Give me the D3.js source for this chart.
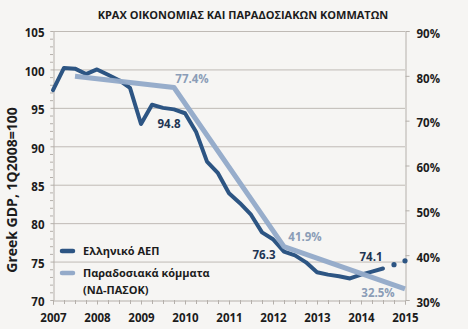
<!DOCTYPE html>
<html><head><meta charset="utf-8">
<script src="https://cdn.jsdelivr.net/npm/d3@7"></script>
<style>
html,body{margin:0;padding:0;background:#f6f5f3;}
svg{display:block;font-family:"Open Sans",sans-serif;}
</style></head>
<body><svg id="c" width="468" height="329"></svg>
<script>
// ---- data ----
const title = "ΚΡΑΧ ΟΙΚΟΝΟΜΙΑΣ ΚΑΙ ΠΑΡΑΔΟΣΙΑΚΩΝ ΚΟΜΜΑΤΩΝ";
const yLabel = "Greek GDP, 1Q2008=100";
const gdpQuarters = ["2007Q1","2007Q2","2007Q3","2007Q4","2008Q1","2008Q2","2008Q3","2008Q4",
  "2009Q1","2009Q2","2009Q3","2009Q4","2010Q1","2010Q2","2010Q3","2010Q4",
  "2011Q1","2011Q2","2011Q3","2011Q4","2012Q1","2012Q2","2012Q3","2012Q4",
  "2013Q1","2013Q2","2013Q3","2013Q4","2014Q1","2014Q2","2014Q3"];
const gdpValues = [97.3,100.2,100.1,99.4,100.0,99.3,98.6,97.6,
  92.9,95.4,95.0,94.8,94.3,91.9,88.0,86.5,
  83.9,82.6,81.1,78.8,77.9,76.3,75.8,74.9,
  73.6,73.3,73.1,72.8,73.3,73.7,74.1];
const gdpLabelled = ["2009Q4","2012Q2","2014Q3"];
const projQuarters = ["2014Q4","2015Q1"];
const projValues = [74.6,75.1];
const partyQuarters = ["2007Q3","2009Q4","2012Q2","2015Q1"];
const partyValues = [79.9,77.4,41.9,32.5];
const partyLabelled = ["2009Q4","2012Q2","2015Q1"];
const yearTicks = [2007,2008,2009,2010,2011,2012,2013,2014,2015];
const leftTicks = [70,75,80,85,90,95,100,105];
const rightTicks = [30,40,50,60,70,80,90];
const legendItems = ["Ελληνικό ΑΕΠ","Παραδοσιακά κόμματα"];
const legendSub = "(ΝΔ-ΠΑΣΟΚ)";

// ---- helpers ----
const qToYear = q => +q.slice(0,4) + (+q.slice(5)-1)/4;

const svg = d3.select("#c");
const L = 53, R = 405, T = 31, B = 300;
const x = d3.scaleLinear().domain([2007,2015]).range([L,R]);
const y = d3.scaleLinear().domain([70,105]).range([B,T]);
const y2 = d3.scaleLinear().domain([30,90]).range([B,T]);

const dark = "#2d5583", light = "#94aac9", grid = "#bfbab5", axisC = "#b5b0ab";
const txt = "#1c1c1c";

// title
svg.append("text").attr("x",243).attr("y",19).attr("text-anchor","middle")
  .attr("font-size",11).attr("font-weight",700).attr("fill",txt).text(title);

// y label
svg.append("text").attr("transform","translate(17,190) rotate(-90)")
  .attr("text-anchor","middle").attr("font-size",14).attr("font-weight",700)
  .attr("fill",txt).text(yLabel);

// gridlines
svg.append("g").selectAll("line").data(leftTicks.filter(d=>d>70)).join("line")
  .attr("x1",L).attr("x2",R).attr("y1",d=>y(d)+0.5).attr("y2",d=>y(d)+0.5)
  .attr("stroke",grid).attr("stroke-width",1);

// left axis
const gl = svg.append("g").attr("transform",`translate(${L+0.5},0)`)
  .call(d3.axisLeft(y).tickValues(leftTicks).tickSize(3).tickPadding(6).tickFormat(d3.format("d")));
gl.select(".domain").attr("stroke",axisC);
gl.selectAll(".tick line").attr("stroke",axisC);
gl.selectAll("text").attr("font-size",11.5).attr("font-weight",700).attr("fill",txt)
  .attr("font-family","Open Sans").attr("dy","0.5em");
svg.append("g").selectAll("line").data(d3.range(70,106).filter(d=>d%5)).join("line")
  .attr("x1",L-3).attr("x2",L).attr("y1",d=>y(d)+0.5).attr("y2",d=>y(d)+0.5)
  .attr("stroke",axisC);

// right axis
const gr = svg.append("g").attr("transform",`translate(${R+0.5},0)`)
  .call(d3.axisRight(y2).tickValues(rightTicks).tickSize(4).tickPadding(7).tickFormat(d=>d+"%"));
gr.select(".domain").attr("stroke",axisC);
gr.selectAll(".tick line").attr("stroke",axisC);
gr.selectAll("text").attr("font-size",11.5).attr("font-weight",700).attr("fill",txt)
  .attr("font-family","Open Sans").attr("dy","0.55em");

// bottom axis
const gb = svg.append("g").attr("transform",`translate(0,${B+0.5})`)
  .call(d3.axisBottom(x).tickValues(yearTicks).tickSize(4).tickPadding(9).tickFormat(d3.format("d")));
gb.select(".domain").attr("stroke",axisC);
gb.selectAll(".tick line").attr("stroke",axisC);
gb.selectAll("text").attr("font-size",11.5).attr("font-weight",700).attr("fill",txt)
  .attr("font-family","Open Sans");
svg.append("g").selectAll("line").data(d3.range(2007,2015,0.25).filter(d=>d%1)).join("line")
  .attr("x1",d=>x(d)+0.5).attr("x2",d=>x(d)+0.5).attr("y1",B).attr("y2",B+4)
  .attr("stroke",axisC);

// top border
svg.append("line").attr("x1",L).attr("x2",R).attr("y1",T+0.5).attr("y2",T+0.5).attr("stroke",grid);

// GDP line
const gdp = gdpQuarters.map((q,i)=>({t:qToYear(q),v:gdpValues[i],q}));
svg.append("path").datum(gdp)
  .attr("d",d3.line().x(d=>x(d.t)).y(d=>y(d.v)))
  .attr("fill","none").attr("stroke",dark).attr("stroke-width",4).attr("stroke-linejoin","round").attr("stroke-linecap","round");
// projected dots
svg.append("g").selectAll("circle").data(projQuarters.map((q,i)=>({t:qToYear(q),v:projValues[i]}))).join("circle")
  .attr("cx",d=>x(d.t)).attr("cy",d=>y(d.v)).attr("r",2.6).attr("fill",dark);

// parties line
const party = partyQuarters.map((q,i)=>({t:qToYear(q),v:partyValues[i],q}));
svg.append("path").datum(party)
  .attr("d",d3.line().x(d=>x(d.t)).y(d=>y2(d.v)))
  .attr("fill","none").attr("stroke",light).attr("stroke-width",5).attr("stroke-linejoin","round").attr("opacity",0.97);

// labels
const gdpOff = {"2009Q4":[-5,18.5],"2012Q2":[-20,7.5],"2014Q3":[-12,-7.5]};
svg.append("g").selectAll("text").data(gdp.filter(d=>gdpLabelled.includes(d.q))).join("text")
  .attr("x",d=>x(d.t)+gdpOff[d.q][0]).attr("y",d=>y(d.v)+gdpOff[d.q][1])
  .attr("text-anchor","middle").attr("font-size",11.5).attr("font-weight",700).attr("fill","#1f3553")
  .text(d=>d3.format(".1f")(d.v));
const partyOff = {"2009Q4":[18,-4.5],"2012Q2":[21,-5.5],"2015Q1":[-27,8.5]};
svg.append("g").selectAll("text").data(party.filter(d=>partyLabelled.includes(d.q))).join("text")
  .attr("x",d=>x(d.t)+partyOff[d.q][0]).attr("y",d=>y2(d.v)+partyOff[d.q][1])
  .attr("text-anchor","middle").attr("font-size",11.5).attr("font-weight",700).attr("fill","#8b9db7")
  .text(d=>d3.format(".1f")(d.v)+"%");

// legend
const lg = svg.append("g");
const lgY = [251,273];
[dark,light].forEach((c,i)=>{
  lg.append("line").attr("x1",62).attr("x2",73).attr("y1",lgY[i]).attr("y2",lgY[i])
    .attr("stroke",c).attr("stroke-width",4.5).attr("stroke-linecap","round");
  lg.append("text").attr("x",83).attr("y",lgY[i]+3.5).attr("font-size",11).attr("font-weight",700)
    .attr("fill",txt).text(legendItems[i]);
});
lg.append("text").attr("x",83).attr("y",294).attr("font-size",11).attr("font-weight",700)
  .attr("fill",txt).text(legendSub);
</script></body></html>
